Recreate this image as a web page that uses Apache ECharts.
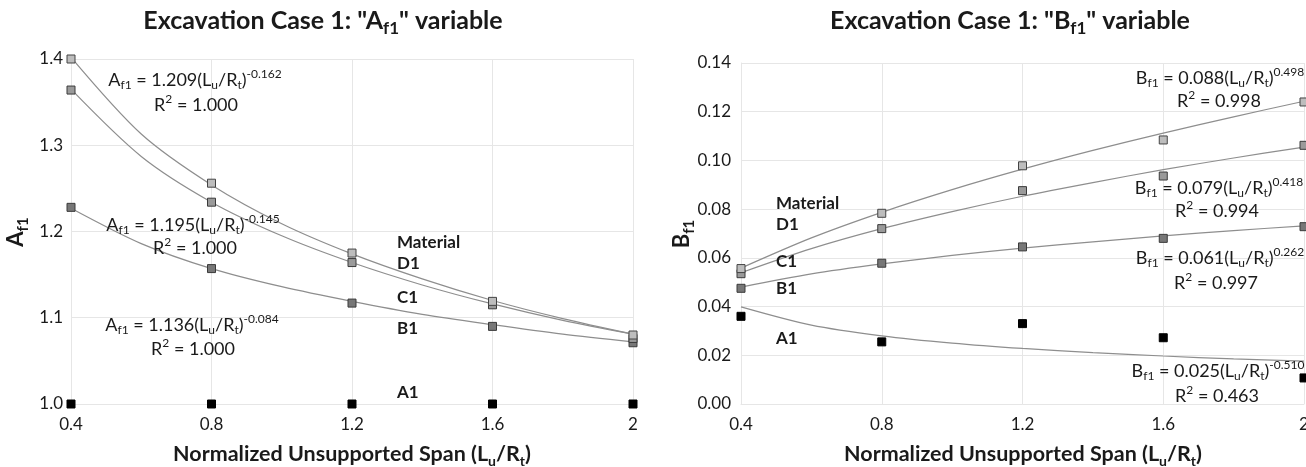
<!DOCTYPE html>
<html>
<head>
<meta charset="utf-8">
<script src="https://cdn.jsdelivr.net/npm/echarts@6/dist/echarts.min.js"></script>
<style>
html,body{margin:0;padding:0;background:#fff;}
#c{width:1306px;height:467px;}
</style>
</head>
<body>
<div id="c"></div>
<script>
// ---------- data ----------
const spans = [0.4, 0.8, 1.2, 1.6, 2];
const xTicks = ['0.4', '0.8', '1.2', '1.6', '2'];
// positions along x where the drawn trend curves were read
const trendX = [0.4, 0.6, 0.8, 1.0, 1.2, 1.4, 1.6, 1.8, 2.0];

// Left chart: A_f1 (markers)
const afA1 = [1.000, 1.000, 1.000, 1.000, 1.000];
const afB1 = [1.228, 1.157, 1.117, 1.090, 1.071];
const afC1 = [1.364, 1.234, 1.164, 1.115, 1.076];
const afD1 = [1.400, 1.256, 1.175, 1.119, 1.080];
// Left chart trend curves
const afTrB1 = [1.227, 1.186, 1.157, 1.136, 1.119, 1.104, 1.092, 1.081, 1.072];
const afTrC1 = [1.365, 1.287, 1.234, 1.195, 1.164, 1.138, 1.116, 1.097, 1.081];
const afTrD1 = [1.402, 1.313, 1.254, 1.209, 1.174, 1.145, 1.120, 1.099, 1.081];

// Right chart: B_f1 (markers)
const bfA1 = [0.0360, 0.0255, 0.0330, 0.0272, 0.0107];
const bfB1 = [0.0475, 0.0578, 0.0645, 0.0680, 0.0728];
const bfC1 = [0.0535, 0.0720, 0.0876, 0.0936, 0.1062];
const bfD1 = [0.0556, 0.0783, 0.0978, 0.1084, 0.1240];
// Right chart trend curves
const bfTrA1 = [0.0399, 0.0324, 0.0280, 0.0250, 0.0228, 0.0211, 0.0197, 0.0185, 0.0176];
const bfTrB1 = [0.0480, 0.0534, 0.0575, 0.0610, 0.0640, 0.0666, 0.0690, 0.0712, 0.0731];
const bfTrC1 = [0.0539, 0.0638, 0.0720, 0.0790, 0.0853, 0.0909, 0.0962, 0.1010, 0.1055];
const bfTrD1 = [0.0558, 0.0682, 0.0787, 0.0880, 0.0964, 0.1041, 0.1112, 0.1179, 0.1243];

const afTicks = ['1.0', '1.1', '1.2', '1.3', '1.4'];
const bfTicks = ['0.00', '0.02', '0.04', '0.06', '0.08', '0.10', '0.12', '0.14'];

// ---------- styling ----------
const FONT = 'Lato, "Open Sans", "DejaVu Sans", sans-serif';
const INK = '#1a1a1a';
const GRID = '#e6e6e6';
const TREND = '#8e8e8e';

function richSet(size, bold) {
  const w = bold ? 'bold' : 'normal';
  const lh = Math.round(size * 1.3);
  const ss = Math.round(size * 0.66);
  return {
    n: {fontSize: size, fontFamily: FONT, fontWeight: w, fill: INK, color: INK, lineHeight: lh},
    b: {fontSize: ss, fontFamily: FONT, fontWeight: w, fill: INK, color: INK, lineHeight: ss, verticalAlign: 'bottom'},
    p: {fontSize: ss, fontFamily: FONT, fontWeight: w, fill: INK, color: INK, lineHeight: ss, verticalAlign: 'top'}
  };
}
function txt(x, y, text, size, bold, align, rot) {
  return {
    type: 'text', x: x, y: y, rotation: rot || 0, z: 10,
    style: {
      text: text, rich: richSet(size, bold), align: align || 'center', verticalAlign: 'middle',
      fontSize: size, fontFamily: FONT, fontWeight: bold ? 'bold' : 'normal', fill: INK
    }
  };
}
const eqA = (c, e) => `{n|A}{b|f1}{n| = ${c}(L}{b|u}{n|/R}{b|t}{n|)}{p|${e}}`;
const eqB = (c, e) => `{n|B}{b|f1}{n| = ${c}(L}{b|u}{n|/R}{b|t}{n|)}{p|${e}}`;
const r2 = v => `{n|R}{p|2}{n| = ${v}}`;
const axName = '{n|Normalized Unsupported Span (L}{b|u}{n|/R}{b|t}{n|)}';

const pairs = (xs, arr) => xs.map((x, i) => [x, arr[i]]);

function trend(arr, gi) {
  return {type: 'line', xAxisIndex: gi, yAxisIndex: gi, data: pairs(trendX, arr), smooth: 0.3,
    symbol: 'none', lineStyle: {color: TREND, width: 1.2}, z: 2, silent: true};
}
function pts(arr, gi, fill, border) {
  return {type: 'scatter', xAxisIndex: gi, yAxisIndex: gi, data: pairs(spans, arr), symbol: 'rect',
    symbolSize: 8, itemStyle: {color: fill, borderColor: border, borderWidth: 1, opacity: 1}, z: 3};
}

function xAx(gi) {
  return {
    type: 'value', gridIndex: gi, min: 0.4, max: 2, interval: 0.4,
    axisLine: {show: true, lineStyle: {color: GRID, width: 1}},
    axisTick: {show: false},
    splitLine: {show: true, lineStyle: {color: GRID, width: 1}},
    axisLabel: {fontSize: 17, fontFamily: FONT, color: INK, margin: 12,
      formatter: v => xTicks[Math.round((v - 0.4) / 0.4)]}
  };
}
function yAx(gi, min, max, step, ticks, margin) {
  return {
    type: 'value', gridIndex: gi, min: min, max: max, interval: step,
    axisLine: {show: true, lineStyle: {color: GRID, width: 1}},
    axisTick: {show: false},
    splitLine: {show: true, lineStyle: {color: GRID, width: 1}},
    axisLabel: {fontSize: 17, fontFamily: FONT, color: INK, margin: margin,
      formatter: v => ticks[Math.round((v - min) / step)]}
  };
}

const chart = echarts.init(document.getElementById('c'), null, {renderer: 'canvas'});
chart.setOption({
  animation: false,
  backgroundColor: '#ffffff',
  grid: [
    {left: 71, top: 59, width: 562, height: 345, outerBoundsMode: 'none', containLabel: false},
    {left: 741, top: 63, width: 563, height: 341, outerBoundsMode: 'none', containLabel: false}
  ],
  xAxis: [xAx(0), xAx(1)],
  yAxis: [yAx(0, 1.0, 1.4, 0.1, afTicks, 8), yAx(1, 0, 0.14, 0.02, bfTicks, 10)],
  series: [
    trend(afTrB1, 0), trend(afTrC1, 0), trend(afTrD1, 0),
    pts(afA1, 0, '#000000', '#000000'),
    pts(afB1, 0, '#777777', '#3a3a3a'),
    pts(afC1, 0, '#9a9a9a', '#3a3a3a'),
    pts(afD1, 0, '#bdbdbd', '#444444'),
    trend(bfTrA1, 1), trend(bfTrB1, 1), trend(bfTrC1, 1), trend(bfTrD1, 1),
    pts(bfA1, 1, '#000000', '#000000'),
    pts(bfB1, 1, '#777777', '#3a3a3a'),
    pts(bfC1, 1, '#9a9a9a', '#3a3a3a'),
    pts(bfD1, 1, '#bdbdbd', '#444444')
  ],
  graphic: [
    // titles
    txt(323, 21, '{n|Excavation Case 1: "A}{b|f1}{n|" variable}', 25, true),
    txt(1010, 21, '{n|Excavation Case 1: "B}{b|f1}{n|" variable}', 25, true),
    // axis names
    txt(352, 454, axName, 21.5, true),
    txt(1023, 454, axName, 21.5, true),
    txt(16, 232, '{n|A}{b|f1}', 22, true, 'center', Math.PI / 2),
    txt(682, 234, '{n|B}{b|f1}', 22, true, 'center', Math.PI / 2),
    // left equations
    txt(195, 80, eqA('1.209', '-0.162'), 18, false),
    txt(196, 105, r2('1.000'), 18, false),
    txt(193, 225, eqA('1.195', '-0.145'), 18, false),
    txt(195, 248, r2('1.000'), 18, false),
    txt(192, 325, eqA('1.136', '-0.084'), 18, false),
    txt(193, 349, r2('1.000'), 18, false),
    // left material labels
    txt(397, 243, '{n|Material}', 17, true, 'left'),
    txt(397, 264, '{n|D1}', 17, true, 'left'),
    txt(397, 298, '{n|C1}', 17, true, 'left'),
    txt(397, 329, '{n|B1}', 17, true, 'left'),
    txt(397, 393, '{n|A1}', 17, true, 'left'),
    // right equations
    txt(1220, 78, eqB('0.088', '0.498'), 18, false),
    txt(1219, 101, r2('0.998'), 18, false),
    txt(1219, 188, eqB('0.079', '0.418'), 18, false),
    txt(1217, 211, r2('0.994'), 18, false),
    txt(1220, 258, eqB('0.061', '0.262'), 18, false),
    txt(1216, 283, r2('0.997'), 18, false),
    txt(1218, 371, eqB('0.025', '-0.510'), 18, false),
    txt(1217, 396, r2('0.463'), 18, false),
    // right material labels
    txt(776, 204, '{n|Material}', 17, true, 'left'),
    txt(776, 225, '{n|D1}', 17, true, 'left'),
    txt(776, 262, '{n|C1}', 17, true, 'left'),
    txt(776, 289, '{n|B1}', 17, true, 'left'),
    txt(776, 339, '{n|A1}', 17, true, 'left')
  ]
});
</script>
</body>
</html>
